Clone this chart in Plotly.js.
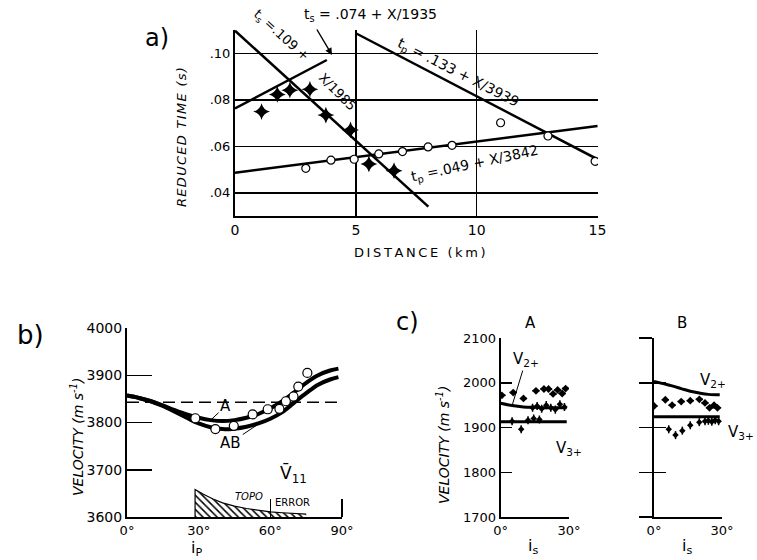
<!DOCTYPE html>
<html><head><meta charset="utf-8">
<script src="https://cdn.plot.ly/plotly-3.0.1.min.js"></script>
<style>html,body{margin:0;padding:0;background:#fff}#chart{width:757px;height:560px}</style>
</head><body><div id="chart"></div>
<script>
// ---------- Panel a : reduced time vs distance ----------
const aCircleKm = [2.93, 3.97, 4.93, 5.95, 6.93, 7.99, 8.98, 10.99, 12.95, 14.9];
const aCircleT  = [0.0505, 0.0540, 0.0544, 0.0567, 0.0577, 0.0597, 0.0604, 0.0701, 0.0644, 0.0535];
const aStarKm = [1.10, 1.75, 2.27, 3.10, 3.76, 4.78, 5.54, 6.58];
const aStarT  = [0.0749, 0.0823, 0.0841, 0.0845, 0.0734, 0.0670, 0.0524, 0.0495];
const tsUpKm = [0, 3.8];      const tsUpT = [0.0763, 0.0971];
const tsDownKm = [0, 8.0];    const tsDownT = [0.1097, 0.0340];
const tpUpperKm = [5.0, 15.0]; const tpUpperT = [0.1086, 0.0544];
const tpLowerKm = [0, 15];    const tpLowerT = [0.0486, 0.0687];
const aXTicks = [0, 5, 10, 15];  const aXLabels = ['0', '5', '10', '15'];
const aYTicks = [0.04, 0.06, 0.08, 0.10]; const aYLabels = ['.04', '.06', '.08', '.10'];

// ---------- Panel b : P velocity vs incidence ----------
const bCurveDeg = [0, 5, 10, 15, 20, 25, 30, 35, 40, 45, 50, 55, 60, 65, 70, 75, 80, 85, 88.5];
const bCurveA   = [3857, 3852, 3845, 3836, 3826, 3817, 3810, 3805, 3803, 3805, 3810, 3818, 3830, 3845, 3864, 3884, 3900, 3910, 3914];
const bCurveAB  = [3857, 3852, 3845, 3835, 3823, 3810, 3798, 3790, 3786, 3787, 3791, 3798, 3808, 3822, 3842, 3862, 3880, 3891, 3896];
const bObsDeg = [28.6, 37.0, 44.7, 52.6, 58.9, 63.8, 66.5, 69.7, 71.7, 75.5];
const bObsV   = [3809, 3786, 3793, 3817, 3828, 3829, 3845, 3855, 3876, 3905];
const bMeanDeg = [0, 90]; const bMeanV = [3843, 3843];
const bTopoDeg = [28.5, 28.5, 32, 36, 40, 45, 50, 55, 60, 65, 70, 75];
const bTopoV   = [3600, 3658, 3648, 3638, 3630, 3623, 3618, 3614, 3611, 3609, 3607, 3606];
const bXTicks = [0, 30, 60, 90]; const bXLabels = ['0°', '30°', '60°', '90°'];
const bYTicks = [3600, 3700, 3800, 3900, 4000];

// ---------- Panel c : S velocities, sites A and B ----------
const cA_V2Deg = [0, 5, 10, 15, 20, 29]; const cA_V2 = [1954, 1949, 1946, 1945, 1944, 1944];
const cA_V3Deg = [0, 29];                const cA_V3 = [1913, 1913];
const cA_upDeg  = [0.5, 5.5, 10, 15.5, 19, 21, 23, 25, 27, 28.5];
const cA_upV    = [1972, 1978, 1965, 1982, 1986, 1986, 1975, 1984, 1976, 1987];
const cA_midDeg = [14, 16, 18, 20, 22, 24, 26, 28];
const cA_midV   = [1944, 1948, 1942, 1950, 1944, 1940, 1952, 1946];
const cA_lowDeg = [5, 9, 12, 14.5, 17];
const cA_lowV   = [1914, 1896, 1916, 1920, 1918];
const cB_V2Deg = [0, 4, 8, 12, 16, 20, 24, 29]; const cB_V2 = [2003, 1998, 1993, 1987, 1981, 1977, 1974, 1973];
const cB_V3Deg = [0, 29];                       const cB_V3 = [1924, 1924];
const cB_upDeg  = [0, 5, 8, 12, 16, 20, 22.5, 24.5, 26.5, 28];
const cB_upV    = [1948, 1962, 1950, 1958, 1960, 1963, 1955, 1944, 1950, 1944];
const cB_lowDeg = [6.5, 9.5, 12.5, 16, 20, 22.5, 24, 25.5, 27, 28.5];
const cB_lowV   = [1896, 1883, 1893, 1905, 1912, 1914, 1915, 1913, 1916, 1914];
const cXTicks = [0, 30]; const cXLabels = ['0°', '30°'];
const cYTicks = [1700, 1800, 1900, 2000, 2100];
const cYInner = [1800, 1900, 2000, 2100];

// ---------- drawing ----------
const W = 757, H = 560;
const F = 'DejaVu Sans, sans-serif';
const K = '#000';
const px = p => p / W, py = p => 1 - p / H;
const dX = (a, b) => [a / W, b / W];
const dY = (top, bottom) => [1 - bottom / H, 1 - top / H];

const line = (x, y, xa, ya, w, extra) => Object.assign({x, y, xaxis: xa, yaxis: ya, mode: 'lines', hoverinfo: 'skip',
  line: Object.assign({color: K, width: w}, extra || {})});

const traces = [
  line(tsUpKm, tsUpT, 'x', 'y', 2.5),
  line(tsDownKm, tsDownT, 'x', 'y', 2.5),
  line(tpUpperKm, tpUpperT, 'x', 'y', 2.5),
  line(tpLowerKm, tpLowerT, 'x', 'y', 2.5),
  {x: aCircleKm, y: aCircleT, xaxis: 'x', yaxis: 'y', mode: 'markers',
   marker: {symbol: 'circle', size: 8, color: '#fff', line: {color: K, width: 1.2}}},
  {x: aStarKm, y: aStarT, xaxis: 'x', yaxis: 'y', mode: 'markers',
   marker: {symbol: 'star-diamond', size: 12, color: K, line: {width: 0}}},

  {x: bTopoDeg, y: bTopoV, xaxis: 'x2', yaxis: 'y2', mode: 'lines', fill: 'tozeroy',
   fillcolor: '#fff', fillpattern: {shape: '\\', fgcolor: K, bgcolor: '#fff', size: 5, solidity: 0.3},
   line: {color: K, width: 1.2}},
  line(bMeanDeg, bMeanV, 'x2', 'y2', 1.6, {dash: '12px,6px'}),
  line(bCurveDeg, bCurveA, 'x2', 'y2', 4, {shape: 'spline'}),
  line(bCurveDeg, bCurveAB, 'x2', 'y2', 4, {shape: 'spline'}),
  {x: bObsDeg, y: bObsV, xaxis: 'x2', yaxis: 'y2', mode: 'markers',
   marker: {symbol: 'circle', size: 9, color: '#fff', line: {color: K, width: 1.2}}},

  line(cA_V2Deg, cA_V2, 'x3', 'y3', 3, {shape: 'spline'}),
  line(cA_V3Deg, cA_V3, 'x3', 'y3', 3),
  {x: cA_upDeg, y: cA_upV, xaxis: 'x3', yaxis: 'y3', mode: 'markers',
   marker: {symbol: 'diamond', size: 6, color: K},
   error_x: {type: 'constant', value: 1.6, thickness: 1.5, width: 0, color: K}},
  {x: cA_midDeg, y: cA_midV, xaxis: 'x3', yaxis: 'y3', mode: 'markers',
   marker: {symbol: 'diamond', size: 5, color: K},
   error_y: {type: 'constant', value: 9, thickness: 1.5, width: 0, color: K}},
  {x: cA_lowDeg, y: cA_lowV, xaxis: 'x3', yaxis: 'y3', mode: 'markers',
   marker: {symbol: 'diamond', size: 5, color: K},
   error_y: {type: 'constant', value: 9, thickness: 1.5, width: 0, color: K}},

  line(cB_V2Deg, cB_V2, 'x4', 'y4', 3, {shape: 'spline'}),
  line(cB_V3Deg, cB_V3, 'x4', 'y4', 3),
  {x: cB_upDeg, y: cB_upV, xaxis: 'x4', yaxis: 'y4', mode: 'markers',
   marker: {symbol: 'diamond', size: 6, color: K},
   error_x: {type: 'constant', value: 1.6, thickness: 1.5, width: 0, color: K}},
  {x: cB_lowDeg, y: cB_lowV, xaxis: 'x4', yaxis: 'y4', mode: 'markers',
   marker: {symbol: 'diamond', size: 5, color: K},
   error_y: {type: 'constant', value: 9, thickness: 1.5, width: 0, color: K}},
  {x: [null], y: [null], xaxis: 'x4', yaxis: 'y5', mode: 'markers', hoverinfo: 'skip'}
];

const base = {showline: true, linecolor: K, linewidth: 2, zeroline: false, showgrid: false,
  ticks: '', tickcolor: K, tickwidth: 1.5, tickfont: {family: F, size: 13, color: K}, fixedrange: true};
const ax = o => Object.assign({}, base, o);

const ann = (text, x, y, size, extra) => Object.assign({text, x: px(x), y: py(y), xref: 'paper', yref: 'paper',
  showarrow: false, xanchor: 'center', yanchor: 'middle', font: {family: F, size, color: K}}, extra || {});
const sp = s => s.split('').join('\u2009');
const hs = s => s.split('').join('\u200A');

const annotations = [
  ann('a)', 157, 38, 24),
  ann('<i>' + hs('REDUCED TIME (s)') + '</i>', 181, 137, 13, {textangle: -90}),
  ann(sp('DISTANCE (km)'), 420, 253, 13),
  ann('t<sub>s</sub> = .074 + X/1935', 370, 15, 14),
  {text: '', x: px(332), y: py(55), xref: 'paper', yref: 'paper', showarrow: true,
   ax: -16, ay: -27, arrowhead: 2, arrowsize: 1, arrowwidth: 1.4, arrowcolor: K, standoff: 0},
  ann('t<sub>s</sub> =.109 +', 281, 35, 13, {textangle: 42}),
  ann('X/1985', 337, 92, 13, {textangle: 45}),
  ann('t<sub>p</sub> = .133 + X/3939', 458, 73, 14, {textangle: 27}),
  ann('t<sub>p</sub> =.049 + X/3842', 475, 164, 14, {textangle: -12}),

  ann('b)', 30, 335, 26),
  ann('<i>VELOCITY (m s<sup>-1</sup>)</i>', 77, 437, 14, {textangle: -90}),
  ann('i<sub>P</sub>', 196, 548, 16),
  {text: 'A', x: 35, y: 3805, xref: 'x2', yref: 'y2', showarrow: true, ax: 15, ay: -14,
   arrowhead: 0, arrowwidth: 1, arrowcolor: K, standoff: 0, font: {family: F, size: 15, color: K}},
  {text: 'AB', x: 56, y: 3800, xref: 'x2', yref: 'y2', showarrow: true, ax: -30, ay: 20,
   arrowhead: 0, arrowwidth: 1, arrowcolor: K, standoff: 0, font: {family: F, size: 15, color: K}},
  ann('V\u0304<sub>11</sub>', 293, 474, 17),
  ann('<i>TOPO</i>', 249, 496, 10),
  ann('ERROR', 292, 502, 10),

  ann('c)', 407, 322, 24),
  ann('A', 530, 323, 15),
  ann('B', 682, 323, 15),
  ann('<i>VELOCITY (m s<sup>-1</sup>)</i>', 443, 445, 14, {textangle: -90}),
  ann('i<sub>s</sub>', 533, 546, 16),
  ann('i<sub>s</sub>', 687, 546, 16),
  {text: 'V<sub>2+</sub>', x: 5, y: 1949, xref: 'x3', yref: 'y3', showarrow: true, ax: 14, ay: -46,
   arrowhead: 0, arrowwidth: 1, arrowcolor: K, standoff: 0, font: {family: F, size: 15, color: K}},
  ann('V<sub>3+</sub>', 569, 448, 15),
  ann('V<sub>2+</sub>', 713, 380, 15),
  ann('V<sub>3+</sub>', 741, 432, 15)
];

const layout = {
  width: W, height: H, margin: {l: 0, r: 0, t: 0, b: 0},
  paper_bgcolor: '#fff', plot_bgcolor: 'rgba(0,0,0,0)', showlegend: false,
  xaxis: ax({domain: dX(235, 598), range: [0, 15.02], anchor: 'y', tickvals: aXTicks, ticktext: aXLabels,
    showgrid: true, gridcolor: K, gridwidth: 1.5, tickfont: {family: F, size: 14, color: K}}),
  yaxis: ax({domain: dY(30, 216), range: [0.03, 0.11], anchor: 'x', tickvals: aYTicks, ticktext: aYLabels,
    showgrid: true, gridcolor: K, gridwidth: 1.5}),
  xaxis2: ax({domain: dX(127, 342), range: [0, 90], anchor: 'y2', tickvals: bXTicks, ticktext: bXLabels,
    tickfont: {family: F, size: 13, color: K},
    minor: {tickvals: [60, 90], ticks: 'inside', ticklen: 18, tickwidth: 1.5, tickcolor: K, showgrid: false}}),
  yaxis2: ax({domain: dY(328, 517), range: [3600, 4000], anchor: 'x2', tickvals: bYTicks,
    ticks: 'inside', ticklen: 25, tickfont: {family: F, size: 14, color: K}}),
  xaxis3: ax({domain: dX(500.7, 569), range: [0, 30], anchor: 'y3', tickvals: cXTicks, ticktext: cXLabels,
    ticks: 'inside', ticklen: 20}),
  yaxis3: ax({domain: dY(338, 517), range: [1700, 2100], anchor: 'x3', tickvals: cYTicks,
    ticks: 'inside', ticklen: 11}),
  xaxis4: ax({domain: dX(654, 722), range: [0, 30], anchor: 'y4', tickvals: cXTicks, ticktext: cXLabels,
    ticks: 'inside', ticklen: 20}),
  yaxis4: ax({domain: dY(338, 517), range: [1700, 2100], anchor: 'x4', tickvals: cYTicks,
    ticks: 'outside', ticklen: 13, showticklabels: false}),
  yaxis5: ax({overlaying: 'y4', anchor: 'x4', side: 'left', range: [1700, 2100], tickvals: cYInner,
    ticks: 'inside', ticklen: 12, showline: false, showticklabels: false}),
  annotations
};

Plotly.newPlot('chart', traces, layout, {staticPlot: true, displayModeBar: false});
</script>
</body></html>
